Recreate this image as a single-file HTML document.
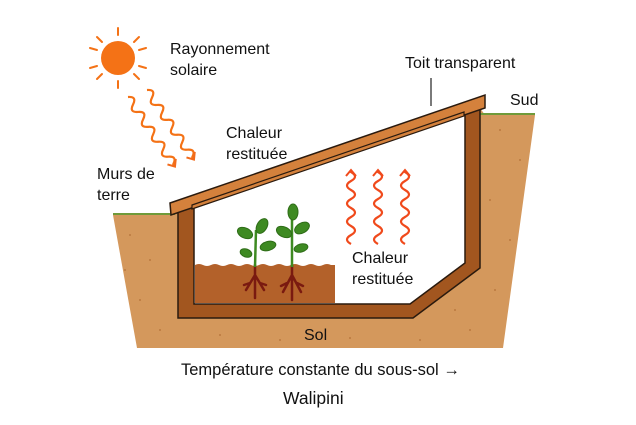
<!DOCTYPE html>
<html><head><meta charset="utf-8"><style>
html,body{margin:0;padding:0;background:#fff}
svg{display:block}
text{font-family:"Liberation Sans",sans-serif;fill:#111}
</style></head><body>
<svg width="636" height="425" viewBox="0 0 636 425" xmlns="http://www.w3.org/2000/svg">
<defs>
<marker id="ah" markerWidth="12" markerHeight="12" refX="7" refY="6" orient="auto" markerUnits="userSpaceOnUse">
<path d="M1 1 L7 6 L1 11" fill="none" stroke="#f26a1b" stroke-width="2"/>
</marker>
<marker id="ah2" markerWidth="12" markerHeight="12" refX="7" refY="6" orient="auto" markerUnits="userSpaceOnUse">
<path d="M1 1 L7 6 L1 11" fill="none" stroke="#f04a1c" stroke-width="2"/>
</marker>
</defs>
<polygon points="113,215 172,215 178,210 480,108 485,115 535,115 503,348 137,348" fill="#d4985c"/>
<line x1="113" y1="214" x2="175" y2="214" stroke="#6f9a3a" stroke-width="2"/>
<line x1="480" y1="114" x2="535" y2="114" stroke="#6f9a3a" stroke-width="2"/>
<g fill="#a8652e" opacity="0.6">
<circle cx="130" cy="235" r="1"/><circle cx="150" cy="260" r="1"/><circle cx="140" cy="300" r="1"/><circle cx="160" cy="330" r="1"/><circle cx="220" cy="335" r="1"/><circle cx="280" cy="340" r="1"/><circle cx="350" cy="338" r="1"/><circle cx="420" cy="340" r="1"/><circle cx="470" cy="330" r="1"/><circle cx="495" cy="290" r="1"/><circle cx="510" cy="240" r="1"/><circle cx="520" cy="160" r="1"/><circle cx="500" cy="130" r="1"/><circle cx="490" cy="200" r="1"/><circle cx="455" cy="310" r="1"/><circle cx="125" cy="270" r="1"/>
</g>
<polygon points="178,210 480,108 480,268 413,318 178,318" fill="#a2561f" stroke="#2a1a0e" stroke-width="1.5"/>
<polygon points="194,205 465,112 465,263 410,304 194,304" fill="#fff" stroke="#2a1a0e" stroke-width="1.5"/>
<path d="M195 265 q4 -2 8 0 t8 0 t8 0 t8 0 t8 0 t8 0 t8 0 t8 0 t8 0 t8 0 t8 0 t8 0 t8 0 t8 0 t8 0 t8 0 t8 0 L335 265 L335 303 L195 303 Z" fill="#b3612a"/>
<polygon points="170,203 485,95 485,108 171,215" fill="#d4813c" stroke="#2a1a0e" stroke-width="1.5"/>
<polygon points="192,205 464,112 464,116 192,209" fill="#d4813c" stroke="#2a1a0e" stroke-width="1.2"/>
<line x1="431" y1="78" x2="431" y2="106" stroke="#222" stroke-width="1.2"/>
<g stroke="#7a1a10" stroke-width="2.5" fill="none" stroke-linecap="round">
<path d="M255 265 L255 298 M255 275 L246 290 M255 275 L264 290 M250 283 L244 285 M260 283 L266 285"/>
<path d="M292 265 L292 300 M292 275 L283 292 M292 275 L301 292 M287 283 L281 286 M297 283 L303 286"/>
</g>
<g fill="#3e8a22" stroke="#2f6d18" stroke-width="1">
<path d="M255 267 L256 230" stroke="#3e8a22" stroke-width="2.5" fill="none"/>
<path d="M292 267 L292 210" stroke="#3e8a22" stroke-width="2.5" fill="none"/>
<ellipse cx="245" cy="233" rx="8" ry="5" transform="rotate(25 245 233)"/>
<ellipse cx="262" cy="226" rx="5" ry="8" transform="rotate(30 262 226)"/>
<ellipse cx="268" cy="246" rx="8" ry="4.5" transform="rotate(-15 268 246)"/>
<ellipse cx="246" cy="253" rx="6" ry="4" transform="rotate(20 246 253)"/>
<ellipse cx="293" cy="212" rx="5" ry="8"/>
<ellipse cx="284" cy="232" rx="8" ry="5" transform="rotate(25 284 232)"/>
<ellipse cx="302" cy="228" rx="8" ry="5" transform="rotate(-30 302 228)"/>
<ellipse cx="301" cy="248" rx="7" ry="4" transform="rotate(-15 301 248)"/>
</g>
<circle cx="118" cy="58" r="17" fill="#f47216"/>
<g stroke="#f47216" stroke-width="2" stroke-linecap="round">
<line x1="118" y1="35" x2="118" y2="28"/><line x1="118" y1="81" x2="118" y2="88"/>
<line x1="102" y1="42" x2="97" y2="37"/><line x1="134" y1="42" x2="139" y2="37"/>
<line x1="102" y1="74" x2="97" y2="79"/><line x1="134" y1="74" x2="139" y2="79"/>
<line x1="97" y1="50" x2="90" y2="48"/><line x1="139" y1="50" x2="146" y2="48"/>
<line x1="97" y1="66" x2="90" y2="68"/><line x1="139" y1="66" x2="146" y2="68"/>
</g>
<g fill="none" stroke="#f47216" stroke-width="2.2">
<path transform="translate(128,97) rotate(56)" d="M0 0 q4.5 -8 9 0 t9 0 t9 0 t9 0 t9 0 t9 0 t9 0 t9 0 t9 0 l3 0" marker-end="url(#ah)"/>
<path transform="translate(147,90) rotate(56)" d="M0 0 q4.5 -8 9 0 t9 0 t9 0 t9 0 t9 0 t9 0 t9 0 t9 0 t9 0 l3 0" marker-end="url(#ah)"/>
</g>
<g fill="none" stroke="#f04a1c" stroke-width="2.2">
<path transform="translate(351,244) rotate(-90)" d="M0 0 q4.5 -8 9 0 t9 0 t9 0 t9 0 t9 0 t9 0 t9 0 t9 0 l2 0" marker-end="url(#ah2)"/>
<path transform="translate(378,244) rotate(-90)" d="M0 0 q4.5 -8 9 0 t9 0 t9 0 t9 0 t9 0 t9 0 t9 0 t9 0 l2 0" marker-end="url(#ah2)"/>
<path transform="translate(405,244) rotate(-90)" d="M0 0 q4.5 -8 9 0 t9 0 t9 0 t9 0 t9 0 t9 0 t9 0 t9 0 l2 0" marker-end="url(#ah2)"/>
</g>
<g font-size="16">
<text x="170" y="54">Rayonnement</text>
<text x="170" y="75">solaire</text>
<text x="405" y="68">Toit transparent</text>
<text x="510" y="105">Sud</text>
<text x="226" y="138">Chaleur</text>
<text x="226" y="159">restituée</text>
<text x="97" y="179">Murs de</text>
<text x="97" y="200">terre</text>
<text x="352" y="263">Chaleur</text>
<text x="352" y="284">restituée</text>
<text x="304" y="340">Sol</text>
<text x="181" y="375" font-size="16.5">Température constante du sous-sol <tspan font-weight="bold">→</tspan></text>
<text x="283" y="404" font-size="17.5">Walipini</text>
</g>
</svg>
</body></html>
